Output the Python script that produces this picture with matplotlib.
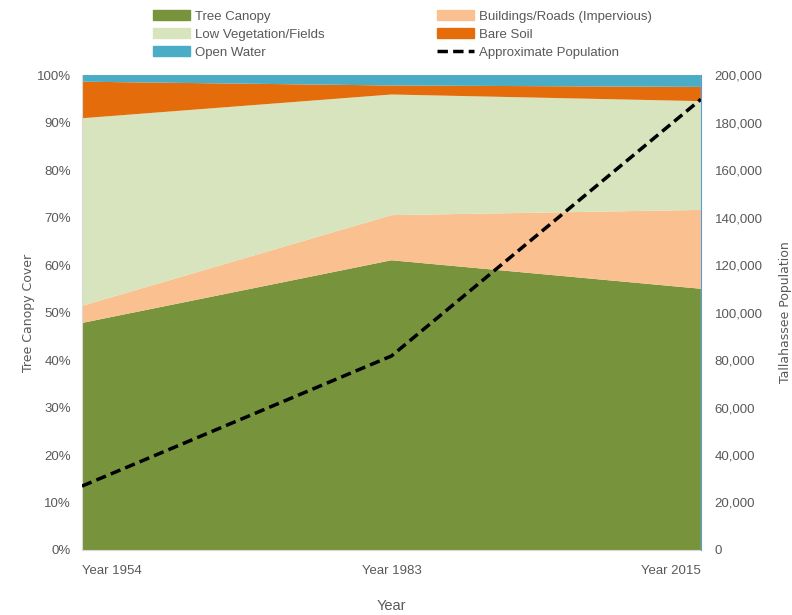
import numpy
from matplotlib import pyplot as plt
from matplotlib.lines import Line2D
from matplotlib.patches import Patch
from matplotlib.ticker import FuncFormatter

plt.rcParams['font.family'] = ['Liberation Sans', 'DejaVu Sans']

years      = ['Year 1954', 'Year 1983', 'Year 2015']
canopy     = [47.8, 61.0, 55.0]
buildings  = [3.6, 9.5, 16.6]
lowveg     = [39.5, 25.4, 22.9]
baresoil   = [7.7, 1.9, 3.0]
water      = [1.4, 2.2, 2.5]
population = [26900, 81700, 189800]

labels = ['Tree Canopy', 'Buildings/Roads (Impervious)', 'Low Vegetation/Fields',
          'Bare Soil', 'Open Water']
colors = ['#77933C', '#FAC090', '#D7E4BD', '#E46C0A', '#4BACC6']
gray   = '#595959'

fig = plt.figure(figsize=(7.92, 6.15), dpi=100)
ax  = fig.add_axes([0.1035, 0.1057, 0.7815, 0.7723])

x = numpy.arange(len(years))
ax.stackplot(x, canopy, buildings, lowveg, baresoil, water, colors=colors, linewidth=0)
ax.set_xlim(0, 2)
ax.set_ylim(0, 100)
ax.set_yticks(numpy.arange(0, 101, 10))
ax.yaxis.set_major_formatter(FuncFormatter(lambda v, p: f'{int(v)}%'))
ax.set_xticks(x)
ax.set_xticklabels(years)
ax.get_xticklabels()[0].set_ha('left')
ax.get_xticklabels()[-1].set_ha('right')
ax.tick_params(length=0, colors=gray, labelsize=9.5)
ax.tick_params(axis='x', pad=11)
ax.tick_params(axis='y', pad=8)
for s in ['top', 'right']:
  ax.spines[s].set_visible(False)
for s in ['left', 'bottom']:
  ax.spines[s].set_color('#D9D9D9')
ax.set_xlabel('Year', color=gray, fontsize=10.5, labelpad=16)
ax.set_ylabel('Tree Canopy Cover', color=gray, fontsize=9, family='DejaVu Sans', labelpad=1)

ax2 = ax.twinx()
ax2.plot(x, population, color='black', linestyle=(0, (3, 1.5)), linewidth=2.5)
ax2.set_ylim(0, 200000)
ax2.set_yticks(numpy.arange(0, 200001, 20000))
ax2.yaxis.set_major_formatter(FuncFormatter(lambda v, p: f'{int(v):,}'))
ax2.tick_params(length=0, colors=gray, labelsize=9.5, pad=10)
for s in ['top', 'left', 'bottom']:
  ax2.spines[s].set_visible(False)
ax2.spines['right'].set_color('#5B9BD5')
ax2.set_ylabel('Tallahassee Population', color=gray, fontsize=9, family='DejaVu Sans', labelpad=12)

handles = [Patch(color=c) for c in colors]
handles.append(Line2D([], [], color='black', linestyle=(0, (3, 1.5)), linewidth=2.5))
order = [0, 2, 4, 1, 3, 5]
allLabels = labels + ['Approximate Population']
fig.legend([handles[i] for i in order], [allLabels[i] for i in order],
           ncol=2, loc='upper left', bbox_to_anchor=(0.178, 1.003), frameon=False,
           fontsize=9.5, labelcolor=gray, handlelength=2.8, handleheight=0.8,
           columnspacing=8.5, labelspacing=0.42, handletextpad=0.4)

fig.savefig('out.png', dpi=100)
